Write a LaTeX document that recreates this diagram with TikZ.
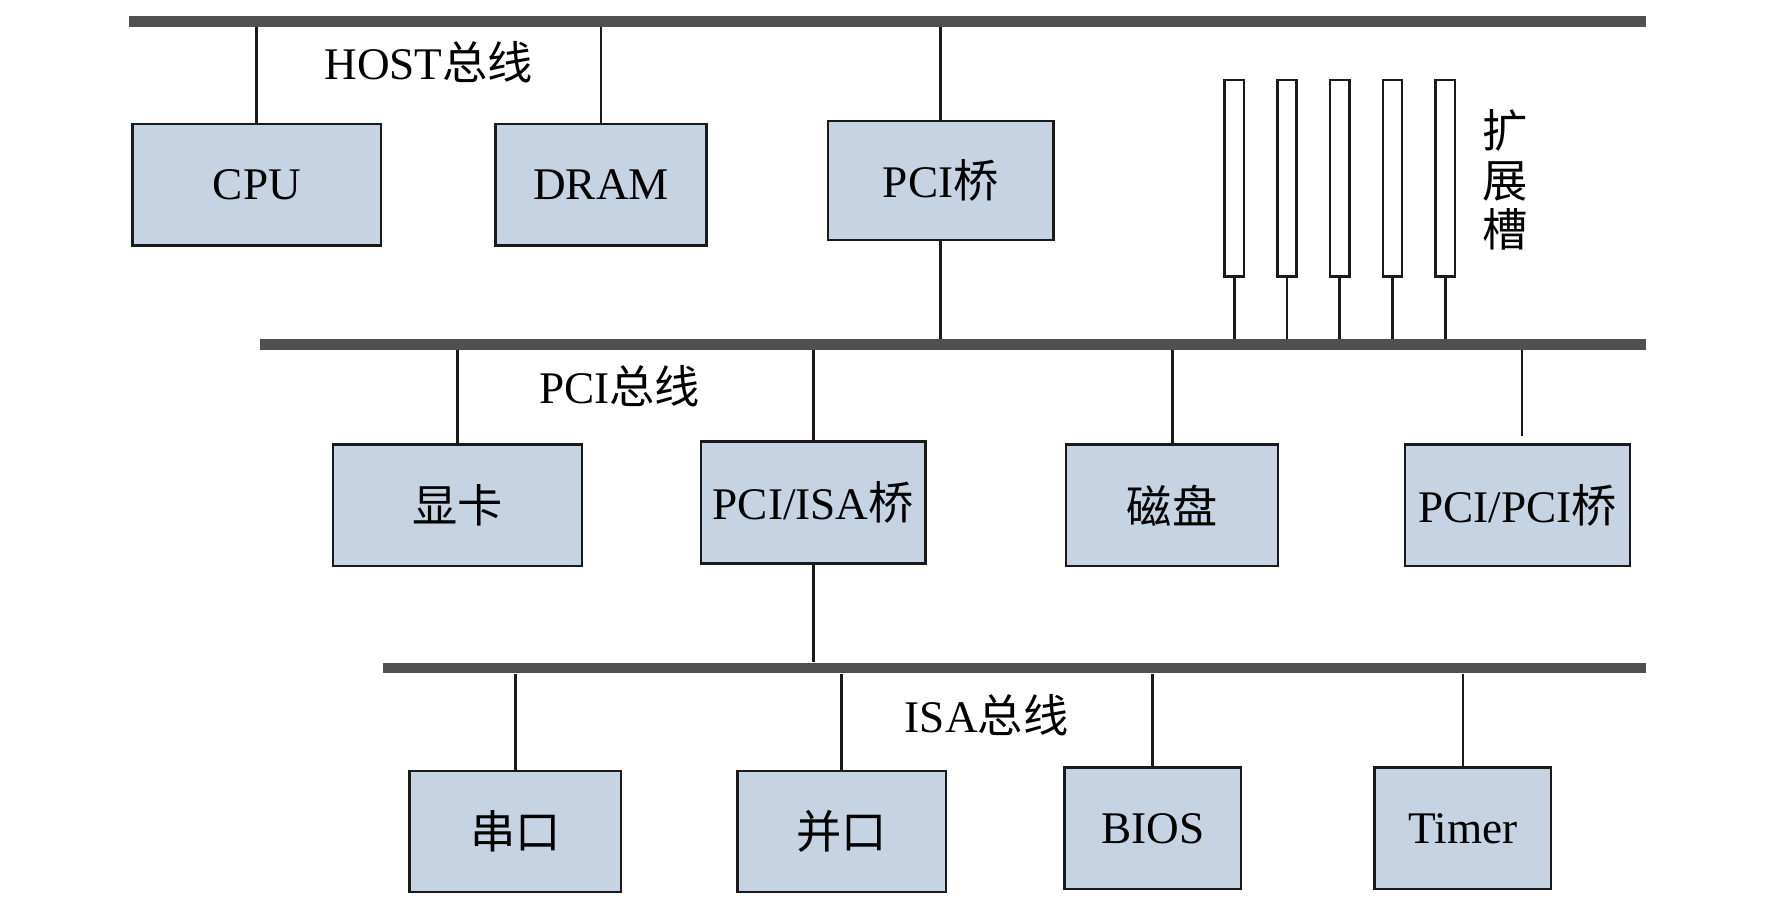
\documentclass[tikz,border=0pt]{standalone}
\usepackage{fontspec}
\setmainfont{Liberation Serif}
\newfontfamily\cjk{Noto Sans CJK SC}
\newcommand\lblfont{\fontsize{22.76}{27}\selectfont}
\newcommand\slotlblfont{\fontsize{22.76}{25.04}\selectfont\cjk}
\definecolor{boxfill}{RGB}{197,211,227}
\definecolor{busgray}{RGB}{80,80,80}
\definecolor{linecol}{RGB}{26,26,26}
\begin{document}
\begin{tikzpicture}[x=0.02cm,y=-0.02cm,
  blk/.style={draw=linecol, line width=1.3pt, fill=boxfill, inner sep=0pt, font=\lblfont},
  bus/.style={fill=busgray, inner sep=0pt, minimum height=0.188cm},
  conn/.style={draw=linecol, line width=1.4pt},
  slotbox/.style={draw=linecol, line width=1.3pt, fill=white, inner sep=0pt, minimum width=0.34cm, minimum height=3.478cm},
  buslbl/.style={font=\lblfont, inner sep=0pt}]
\useasboundingbox (0,0) rectangle (1568,799);

% boxes
\node[blk, minimum width=4.394cm, minimum height=2.146cm] (cpu) at (227.05,163.25) {CPU};
\node[blk, minimum width=3.734cm, minimum height=2.146cm] (dram) at (531.25,163.25) {DRAM};
\node[blk, minimum width=3.982cm, minimum height=2.104cm] (pcib) at (831.55,159.6) {PCI{\cjk 桥}};
\node[blk, minimum width=4.404cm, minimum height=2.15cm] (vga) at (404.4,446.55) {\cjk 显卡};
\node[blk, minimum width=3.974cm, minimum height=2.152cm] (pciisa) at (718.85,444.2) {PCI/ISA{\cjk 桥}};
\node[blk, minimum width=3.748cm, minimum height=2.15cm] (disk) at (1036,446.55) {\cjk 磁盘};
\node[blk, minimum width=3.98cm, minimum height=2.15cm] (pcipci) at (1341.2,446.55) {PCI/PCI{\cjk 桥}};
\node[blk, minimum width=3.74cm, minimum height=2.144cm] (com) at (455.5,734.9) {\cjk 串口};
\node[blk, minimum width=3.68cm, minimum height=2.144cm] (lpt) at (744,734.9) {\cjk 并口};
\node[blk, minimum width=3.12cm, minimum height=2.146cm] (bios) at (1019,732.25) {BIOS};
\node[blk, minimum width=3.12cm, minimum height=2.146cm] (timer) at (1293,732.25) {Timer};

% slots
\foreach \i/\xx in {1/1091,2/1137.6,3/1184.2,4/1230.8,5/1277.4}
  \node[slotbox] (slot\i) at (\xx,157.65) {};

% buses
\node[bus, minimum width=26.82cm] (hostbus) at (784.5,18.9) {};
\node[bus, minimum width=24.514cm] (pcibus) at (842.15,304.7) {};
\node[bus, minimum width=22.34cm] (isabus) at (896.5,590.5) {};

% connectors
\draw[conn] (cpu.north) -- (cpu.north |- hostbus.south);
\draw[conn] (dram.north) -- (dram.north |- hostbus.south);
\draw[conn] (pcib.north) -- (pcib.north |- hostbus.south);
\draw[conn] (pcib.south) -- (pcib.south |- pcibus.north);
\foreach \i in {1,...,5}
  \draw[conn] (slot\i.south) -- (slot\i.south |- pcibus.north);
\draw[conn] (vga.north) -- (vga.north |- pcibus.south);
\draw[conn] (pciisa.north) -- (pciisa.north |- pcibus.south);
\draw[conn] (disk.north) -- (disk.north |- pcibus.south);
\coordinate (ppend) at ([xshift=0.08cm,yshift=0.12cm]pcipci.north);
\draw[conn] (ppend) -- (ppend |- pcibus.south);
\draw[conn] (pciisa.south) -- (pciisa.south |- isabus.north);
\draw[conn] (com.north) -- (com.north |- isabus.south);
\draw[conn] (lpt.north) -- (lpt.north |- isabus.south);
\draw[conn] (bios.north) -- (bios.north |- isabus.south);
\draw[conn] (timer.north) -- (timer.north |- isabus.south);

% labels
\node[buslbl] (hostlbl) at (379,55) {HOST{\cjk 总线}};
\node[buslbl] (pcilbl) at (547.7,341) {PCI{\cjk 总线}};
\node[buslbl] (isalbl) at (872,632) {ISA{\cjk 总线}};
\node[buslbl, align=center, font=\slotlblfont] (slotlbl) at (1330,159) {扩\\展\\槽};
\end{tikzpicture}
\end{document}
